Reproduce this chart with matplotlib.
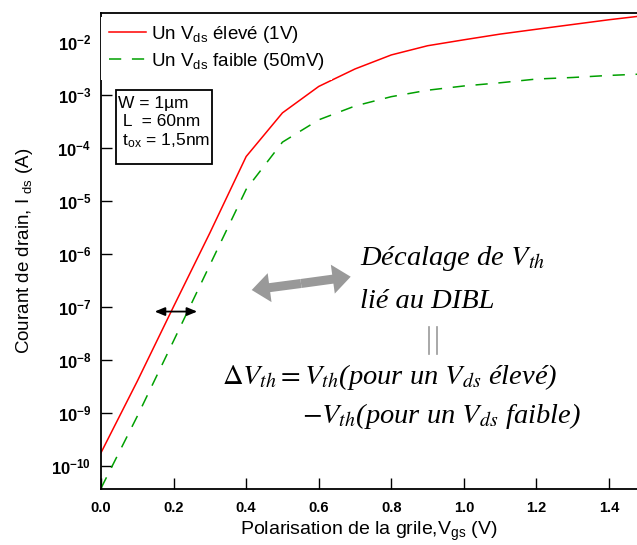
import numpy as np
import matplotlib
matplotlib.use('Agg')
import matplotlib.pyplot as plt
from matplotlib.ticker import FixedLocator, FuncFormatter, NullLocator
from matplotlib.lines import Line2D
from matplotlib.patches import Rectangle

plt.rcParams['font.family'] = ['Liberation Sans', 'DejaVu Sans']
plt.rcParams['mathtext.fontset'] = 'custom'
plt.rcParams['mathtext.rm'] = 'Liberation Sans'
plt.rcParams['mathtext.it'] = 'Liberation Sans:italic'
plt.rcParams['mathtext.bf'] = 'Liberation Sans:bold'

# Vgs sweep (V) and drain currents (A)
vgs = [0.0, 0.1, 0.2, 0.3, 0.4, 0.5, 0.6, 0.7, 0.8, 0.9, 1.0, 1.1, 1.2, 1.3, 1.4, 1.5]
ids_high = [1.78e-10, 3.98e-9, 1.02e-7, 2.5e-6, 6.9e-5, 4.6e-4, 1.45e-3, 3.1e-3,
            5.7e-3, 8.5e-3, 1.1e-2, 1.41e-2, 1.74e-2, 2.14e-2, 2.63e-2, 3.16e-2]
ids_low = [3.8e-11, 8.7e-10, 2.3e-8, 6.2e-7, 1.66e-5, 1.29e-4, 3.4e-4, 6.2e-4,
           9.3e-4, 1.23e-3, 1.48e-3, 1.7e-3, 2.0e-3, 2.14e-3, 2.34e-3, 2.5e-3]

label_high = r'Un $\mathrm{V_{ds}}$ élevé (1V)'
label_low = r'Un $\mathrm{V_{ds}}$ faible (50mV)'

x_ticks = [0.0, 0.2, 0.4, 0.6, 0.8, 1.0, 1.2, 1.4]
y_ticks = [1e-10, 1e-9, 1e-8, 1e-7, 1e-6, 1e-5, 1e-4, 1e-3, 1e-2]

W, H = 637, 545
fig = plt.figure(figsize=(W / 100, H / 100), dpi=100)
ax = fig.add_axes([101 / W, 1 - 489 / H, 536 / W, 476 / H])

ax.semilogy(vgs, ids_high, color='#ff0000', lw=1.1, label=label_high)
ax.semilogy(vgs, ids_low, color='#00a000', lw=1.1, dashes=(8, 7), label=label_low)

ax.set_xlim(0, 1.477)
ax.set_ylim(10 ** -10.434, 10 ** -1.453)

ax.xaxis.set_major_locator(FixedLocator(x_ticks))
ax.xaxis.set_major_formatter(FuncFormatter(lambda v, p: '%.1f' % v))
ax.yaxis.set_major_locator(FixedLocator(y_ticks))
ax.yaxis.set_minor_locator(NullLocator())
ax.yaxis.set_major_formatter(FuncFormatter(lambda v, p: r'$\mathbf{10^{%d}}$' % round(np.log10(v))))
ax.tick_params(direction='in', length=8, width=1, colors='black')
ax.tick_params(axis='x', pad=9, labelsize=10.5)
ax.tick_params(axis='y', pad=7, labelsize=12)
for t in ax.get_xticklabels():
    t.set_fontweight('bold')

for s in ['left', 'bottom', 'top']:
    ax.spines[s].set_linewidth(1.3)
ax.spines['right'].set_visible(False)

ax.set_xlabel(r'Polarisation de la grile,$\mathrm{V_{gs}}$ (V)', fontsize=14, labelpad=3)
ax.set_ylabel(r'Courant de drain, I $\mathrm{_{ds}}$ (A)', fontsize=13.5, labelpad=12)

leg = ax.legend(loc='upper left', bbox_to_anchor=(0.0, 1 - 3.5 / 476), borderaxespad=0,
                fontsize=13.5, handlelength=2.0, handletextpad=0.27, labelspacing=0.32,
                fancybox=False, framealpha=1)
leg.get_frame().set_edgecolor('none')

# device parameters box
fig.add_artist(Rectangle((116 / W, 1 - 164 / H), 96 / W, 74 / H, transform=fig.transFigure,
                         fc='white', ec='black', lw=1.3))
fig.text(118 / W, 1 - 96 / H, 'W = 1µm\n L  = 60nm\n t$\\mathrm{_{ox}}$ = 1,5nm',
         fontsize=12.5, va='top', ha='left', linespacing=1.22)

# DIBL annotation (serif italic)
serif = dict(family='Liberation Serif', style='italic', math_fontfamily='stix',
             fontsize=20.5, va='baseline', ha='left')
fig.text(360 / W, 1 - 265 / H, 'Décalage de $V_{th}$', **serif)
fig.text(360 / W, 1 - 308 / H, 'lié au DIBL', **serif)
fig.text(222 / W, 1 - 384 / H, r'$\Delta V_{th} = V_{th}$(pour un $V_{ds}$ élevé)', **serif)
fig.text(302 / W, 1 - 423 / H, r'$-V_{th}$(pour un $V_{ds}$ faible)', **serif)
for xp in [429, 437]:
    fig.add_artist(Line2D([xp / W, xp / W], [1 - 327 / H, 1 - 354 / H],
                          transform=fig.transFigure, color='#999999', lw=1.2))

# gray double arrow
mid = (301, H - 283.5)
for tip in [(251.7, H - 290), (350.7, H - 276.7)]:
    ax.annotate('', xy=tip, xytext=mid, xycoords='figure pixels', textcoords='figure pixels',
                arrowprops=dict(arrowstyle='simple,head_length=1.3,head_width=2.1,tail_width=0.65',
                                mutation_scale=10, color='#999999', shrinkA=0, shrinkB=0, lw=0))

# small black shift arrow at 1e-7
ax.annotate('', xy=(0.265, 8.2e-8), xytext=(0.148, 8.2e-8),
            arrowprops=dict(arrowstyle='<|-|>,head_length=0.6,head_width=0.25', color='black',
                            lw=1.3, shrinkA=0, shrinkB=0))

fig.savefig('out.png', dpi=100)
